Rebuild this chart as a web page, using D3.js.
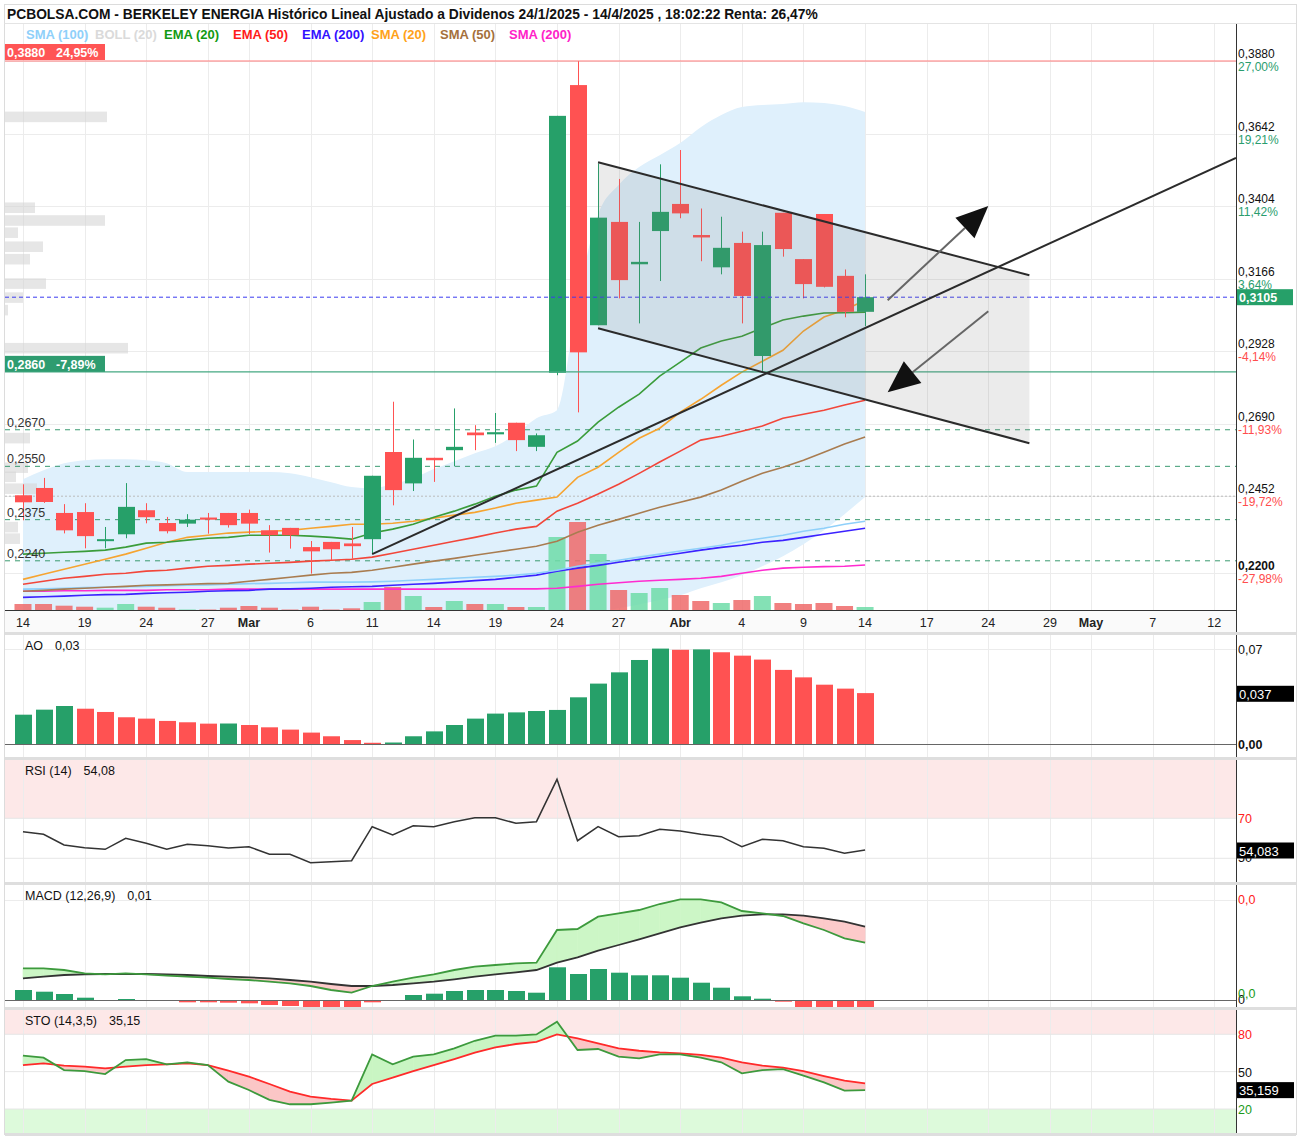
<!DOCTYPE html>
<html>
<head>
<meta charset="utf-8">
<script src="https://cdn.jsdelivr.net/npm/d3@7"></script>
<style>
body { margin: 0; background: #fff; }
text { font-family: "Liberation Sans", Arial, sans-serif; }
</style>
</head>
<body>
<div id="grafico"></div>
<script>
// ---- datos ----
const sesiones = ["14/2","17/2","18/2","19/2","20/2","21/2","24/2","25/2","26/2","27/2","28/2",
  "3/3","4/3","5/3","6/3","7/3","10/3","11/3","12/3","13/3","14/3","17/3","18/3","19/3","20/3","21/3",
  "24/3","25/3","26/3","27/3","28/3","31/3","1/4","2/4","3/4","4/4","7/4","8/4","9/4","10/4","11/4","14/4"];

const apertura = [0.2455,0.2479,0.2397,0.2400,0.2307,0.2327,0.2406,0.2364,0.2362,0.2382,0.2397,0.2397,0.2340,0.2348,0.2285,0.2302,0.2297,0.2311,0.2597,0.2494,0.2578,0.2603,0.2661,0.2655,0.2693,0.2614,0.2857,0.3801,0.3013,0.3352,0.3213,0.3322,0.3411,0.3309,0.3203,0.3283,0.2912,0.3382,0.3230,0.3378,0.3175,0.3057];
const maximo = [0.2491,0.2512,0.2426,0.2429,0.2351,0.2495,0.2429,0.2384,0.2393,0.2397,0.2397,0.2408,0.2357,0.2348,0.2305,0.2302,0.2351,0.2519,0.2762,0.2638,0.2578,0.2740,0.2685,0.2725,0.2693,0.2658,0.3700,0.3880,0.3544,0.3493,0.3352,0.3541,0.3588,0.3396,0.3369,0.3320,0.3320,0.3382,0.3230,0.3378,0.3196,0.3180];
const minimo = [0.2373,0.2430,0.2330,0.2281,0.2281,0.2314,0.2363,0.2330,0.2351,0.2329,0.2349,0.2327,0.2267,0.2280,0.2198,0.2242,0.2247,0.2262,0.2422,0.2469,0.2499,0.2550,0.2603,0.2627,0.2600,0.2600,0.2849,0.2727,0.3013,0.3101,0.3019,0.3158,0.3364,0.3223,0.3180,0.3019,0.2857,0.3238,0.3101,0.3137,0.3039,0.3010];
const cierre = [0.2432,0.2433,0.2340,0.2321,0.2311,0.2417,0.2383,0.2337,0.2375,0.2375,0.2357,0.2362,0.2324,0.2324,0.2271,0.2278,0.2288,0.2519,0.2472,0.2578,0.2570,0.2614,0.2652,0.2662,0.2636,0.2652,0.3700,0.2924,0.3366,0.3161,0.3221,0.3385,0.3380,0.3301,0.3267,0.3109,0.3276,0.3263,0.3148,0.3139,0.3057,0.3105];
const volumen = [60,60,43,33,23,60,33,23,5,5,23,40,23,5,33,5,17,80,230,140,30,90,60,60,30,30,730,880,560,200,170,220,150,90,70,100,140,70,60,70,40,30];

const ema20 = [0.2262,0.2265,0.2268,0.2271,0.2275,0.2285,0.2298,0.2301,0.2308,0.2314,0.2317,0.2324,0.2324,0.2324,0.2321,0.2317,0.2311,0.2331,0.2344,0.2360,0.2383,0.2403,0.2426,0.2452,0.2472,0.2485,0.2596,0.2633,0.2695,0.2744,0.2787,0.2846,0.2892,0.2938,0.2961,0.2977,0.3004,0.3030,0.3043,0.3053,0.3054,0.3056];
const sma20 = [0.2179,0.2196,0.2212,0.2229,0.2245,0.2262,0.2281,0.2301,0.2317,0.2324,0.2331,0.2334,0.2337,0.2340,0.2347,0.2353,0.2360,0.2360,0.2363,0.2370,0.2380,0.2390,0.2399,0.2413,0.2429,0.2439,0.2449,0.2514,0.2547,0.2596,0.2642,0.2675,0.2728,0.2770,0.2816,0.2859,0.2895,0.2931,0.2994,0.3040,0.3063,0.3095];
const ema50 = [0.2163,0.2173,0.2183,0.2189,0.2196,0.2199,0.2206,0.2209,0.2216,0.2222,0.2225,0.2229,0.2232,0.2235,0.2239,0.2242,0.2245,0.2252,0.2265,0.2278,0.2291,0.2304,0.2317,0.2331,0.2344,0.2353,0.2403,0.2429,0.2459,0.2491,0.2527,0.2564,0.2600,0.2636,0.2649,0.2665,0.2682,0.2708,0.2721,0.2734,0.2751,0.2767];
const sma50 = [0.2140,0.2143,0.2147,0.2150,0.2153,0.2156,0.2160,0.2161,0.2163,0.2165,0.2166,0.2173,0.2179,0.2186,0.2193,0.2199,0.2202,0.2209,0.2219,0.2229,0.2239,0.2248,0.2258,0.2268,0.2278,0.2288,0.2304,0.2334,0.2357,0.2376,0.2396,0.2416,0.2432,0.2449,0.2472,0.2501,0.2527,0.2547,0.2570,0.2596,0.2623,0.2646];
const ema200 = [0.2120,0.2122,0.2124,0.2127,0.2129,0.2130,0.2133,0.2135,0.2137,0.2140,0.2142,0.2143,0.2147,0.2148,0.2150,0.2153,0.2155,0.2156,0.2160,0.2163,0.2166,0.2170,0.2175,0.2179,0.2186,0.2193,0.2206,0.2216,0.2225,0.2235,0.2245,0.2255,0.2265,0.2275,0.2284,0.2291,0.2301,0.2307,0.2317,0.2327,0.2337,0.2347];
const sma100 = [0.2147,0.2148,0.2150,0.2152,0.2153,0.2155,0.2156,0.2158,0.2160,0.2161,0.2163,0.2165,0.2166,0.2168,0.2170,0.2170,0.2170,0.2171,0.2173,0.2176,0.2179,0.2183,0.2186,0.2189,0.2193,0.2199,0.2209,0.2222,0.2232,0.2242,0.2252,0.2262,0.2272,0.2281,0.2291,0.2304,0.2314,0.2324,0.2337,0.2347,0.2360,0.2370];
const sma200 = [0.2140,0.2140,0.2142,0.2142,0.2143,0.2143,0.2143,0.2145,0.2145,0.2145,0.2147,0.2147,0.2147,0.2147,0.2147,0.2147,0.2147,0.2147,0.2147,0.2147,0.2147,0.2148,0.2148,0.2148,0.2148,0.2148,0.2150,0.2156,0.2163,0.2168,0.2173,0.2176,0.2179,0.2183,0.2189,0.2199,0.2209,0.2216,0.2219,0.2221,0.2222,0.2226];
const bollSup = [0.2508,0.2537,0.2560,0.2570,0.2573,0.2573,0.2570,0.2560,0.2531,0.2531,0.2531,0.2531,0.2531,0.2527,0.2514,0.2498,0.2482,0.2478,0.2491,0.2511,0.2541,0.2567,0.2593,0.2616,0.2656,0.2708,0.2734,0.3095,0.3375,0.3473,0.3532,0.3571,0.3611,0.3663,0.3703,0.3729,0.3736,0.3739,0.3745,0.3742,0.3732,0.3713];
const bollInf = [0.2045,0.2043,0.2040,0.2040,0.2041,0.2042,0.2043,0.2044,0.2045,0.2046,0.2047,0.2048,0.2049,0.2050,0.2050,0.2051,0.2052,0.2053,0.2054,0.2055,0.2056,0.2058,0.2060,0.2062,0.2064,0.2066,0.2071,0.2062,0.2071,0.2084,0.2097,0.2111,0.2127,0.2150,0.2170,0.2193,0.2222,0.2255,0.2294,0.2340,0.2393,0.2449];

// volumen por precio (perfil izquierdo)
const perfilPrecio = [0.3695,0.3397,0.3355,0.3315,0.3269,0.3228,0.3148,0.3102,0.3061,0.2936,0.2641,0.2544,0.2514,0.2475,0.2349,0.2311];
const perfilVol = [102,30,100,13,38,25,41,18,3,123,25,23,11,32,13,15];

// indicadores
const ao = [0.0216,0.0253,0.0280,0.0260,0.0236,0.0197,0.0187,0.0170,0.0160,0.0150,0.0151,0.0140,0.0123,0.0106,0.0084,0.0057,0.0029,0.0009,0.0011,0.0057,0.0093,0.0140,0.0187,0.0224,0.0233,0.0243,0.0251,0.0344,0.0445,0.0528,0.0619,0.0703,0.0694,0.0697,0.0676,0.0651,0.0622,0.0546,0.0491,0.0437,0.0408,0.0375];
const rsi = [63.3,62.0,56.7,55.3,54.5,60.0,57.5,54.5,57.0,56.3,55.2,55.8,52.0,52.0,47.8,48.3,48.8,65.8,61.7,66.3,65.8,68.3,70.3,70.3,67.5,68.3,89.5,58.8,65.8,60.8,61.3,64.5,63.7,62.0,60.8,55.8,59.5,58.8,55.8,55.0,52.5,54.1];
const macd = [0.00633,0.00633,0.0060,0.00533,0.00513,0.00533,0.00513,0.00487,0.00467,0.00447,0.0042,0.0040,0.00367,0.00333,0.0028,0.0020,0.00147,0.0028,0.00367,0.00447,0.00513,0.0060,0.00667,0.0070,0.00733,0.00747,0.0140,0.0142,0.01667,0.01733,0.0180,0.0192,0.02013,0.02013,0.01953,0.0178,0.01733,0.0168,0.01533,0.0140,0.01233,0.01147];
const senal = [0.00433,0.00467,0.0050,0.00513,0.0052,0.0052,0.0052,0.00513,0.0050,0.0048,0.00467,0.00453,0.00433,0.0040,0.00367,0.0032,0.0028,0.0028,0.0030,0.00333,0.00367,0.00413,0.00467,0.00513,0.00553,0.0060,0.00747,0.00853,0.00987,0.0110,0.01213,0.01333,0.01453,0.01547,0.01633,0.01687,0.01713,0.01713,0.01687,0.01633,0.01567,0.01467];
const histograma = [0.00100,0.00083,0.00060,0.00023,0,0.00010,0,-0.00007,-0.00023,-0.00023,-0.00027,-0.00033,-0.00050,-0.00060,-0.00080,-0.00080,-0.00080,-0.00023,-0.00005,0.00050,0.00063,0.00090,0.00100,0.00100,0.00090,0.00073,0.00327,0.00260,0.00310,0.00273,0.00247,0.00247,0.00223,0.00173,0.00123,0.00037,0.00013,-0.00017,-0.00080,-0.00080,-0.00080,-0.00080];
const stoK = [62.8,61.2,51.3,50.5,48.1,59.3,60.1,55.9,57.5,55.3,42.0,35.3,27.3,23.8,23.8,25.1,26.7,63.9,55.9,62.0,63.9,68.7,74.8,78.9,78.9,79.9,90.1,67.4,68.2,62.0,60.7,63.9,63.9,61.2,57.5,48.7,51.3,52.1,46.8,41.4,34.7,35.2];
const stoD = [55.3,56.7,54.8,54.0,52.7,54.0,55.3,55.9,56.7,55.3,50.8,46.0,40.1,33.9,29.9,28.1,26.7,40.1,45.2,50.5,55.3,60.1,65.2,69.5,72.2,74.0,79.9,76.7,72.7,68.7,66.8,65.5,64.7,63.4,61.2,57.5,54.8,53.2,50.5,46.5,42.8,40.6];

// eje de fechas (indice de sesion, incluidas futuras)
const ticksPos = [0,3,6,9,11,14,17,20,23,26,29,32,35,38,41,44,47,50,52,55,58];
const ticksTxt = ["14","19","24","27","Mar","6","11","14","19","24","27","Abr","4","9","14","17","24","29","May","7","12"];
const ticksPrecio = [0.3880,0.3642,0.3404,0.3166,0.2928,0.2690,0.2452,0.2200];
const ticksPct = ["27,00%","19,21%","11,42%","3,64%","-4,14%","-11,93%","-19,72%","-27,98%"];

// niveles horizontales
const soportes = [0.2670,0.2550,0.2375,0.2240];
const maxPeriodo = 0.3880, minRef = 0.2860, ultimo = 0.3105;

// lineas dibujadas a mano: [sesion, precio]
const canalSup = [[28,0.3548],[49,0.3177]];
const canalInf = [[28,0.3003],[49,0.2626]];
const tendAlcista = [[17,0.2262],[59.06,0.3562]];
const flechaSube = [[42.1,0.3095],[47,0.3404]];
const flechaBaja = [[47,0.3059],[42.1,0.2793]];

// ---- dibujo ----
var width = 1301, height = 1138;
var svg = d3.select("#grafico").append("svg")
  .attr("width", width).attr("height", height).style("display", "block");

const L = 5, R = 1236;
const verde = "#26a069", rojo = "#ff5252";
const x = d3.scaleLinear().domain([-0.876, 59.06]).range([L, R]);
const y = d3.scaleLinear().domain([0.2200, 0.3880]).range([573, 61]);
const yVol = d3.scaleLinear().domain([0, 1000]).range([610, 510]);
const idx = d3.range(cierre.length);

const defs = svg.append("defs");
function clip(id, top, bottom) {
  defs.append("clipPath").attr("id", id).append("rect")
    .attr("x", L).attr("y", top).attr("width", R - L).attr("height", bottom - top);
}
clip("cMain", 24, 610);
clip("cAO", 635, 757);
clip("cRSI", 760, 882);
clip("cMACD", 885, 1007);
clip("cSTO", 1010, 1133);

// marco
svg.append("rect").attr("x", 4.5).attr("y", 4.5).attr("width", 1292).attr("height", 1130)
  .attr("fill", "none").attr("stroke", "#dcdcdc");
svg.append("line").attr("x1", 4.5).attr("x2", 1296).attr("y1", 23.5).attr("y2", 23.5).attr("stroke", "#e4e4e4");

svg.append("text").attr("x", 7).attr("y", 19).attr("font-size", 13.8).attr("font-weight", "bold")
  .attr("fill", "#111")
  .text("PCBOLSA.COM - BERKELEY ENERGIA Histórico Lineal Ajustado a Dividenos 24/1/2025 - 14/4/2025 , 18:02:22 Renta: 26,47%");

function vgrid(g, top, bottom) {
  g.selectAll(".vg").data(ticksPos).enter().append("line")
    .attr("x1", d => Math.round(x(d)) + 0.5).attr("x2", d => Math.round(x(d)) + 0.5)
    .attr("y1", top).attr("y2", bottom).attr("stroke", "#ececec");
}

// ===== panel principal =====
const gm = svg.append("g").attr("clip-path", "url(#cMain)");
vgrid(gm, 24, 610);
gm.selectAll(".hg").data(ticksPrecio).enter().append("line")
  .attr("x1", L).attr("x2", R).attr("y1", d => Math.round(y(d)) + 0.5).attr("y2", d => Math.round(y(d)) + 0.5)
  .attr("stroke", "#ececec");

// bandas de bollinger
gm.append("path").datum(idx)
  .attr("d", d3.area().x(i => x(i)).y0(i => y(bollInf[i])).y1(i => y(bollSup[i])).curve(d3.curveMonotoneX))
  .attr("fill", "#dff0fc");

// perfil de volumen
const xPerfil = d3.scaleLinear().domain([0, 130]).range([0, 130]);
gm.selectAll(".perf").data(perfilPrecio).enter().append("rect")
  .attr("x", L).attr("y", d => y(d + 0.0019)).attr("width", (d, i) => xPerfil(perfilVol[i]))
  .attr("height", y(0) - y(0.0038) - 1).attr("fill", "#d6d6d6").attr("opacity", 0.6);

// niveles
gm.selectAll(".sop").data(soportes).enter().append("line")
  .attr("x1", L).attr("x2", R).attr("y1", d => y(d)).attr("y2", d => y(d))
  .attr("stroke", "#3a9a70").attr("stroke-width", 1).attr("stroke-dasharray", "5,5");
gm.append("line").attr("x1", L).attr("x2", R).attr("y1", y(0.2452)).attr("y2", y(0.2452))
  .attr("stroke", "#bbb").attr("stroke-dasharray", "2,2");

// volumen
gm.selectAll(".vol").data(idx).enter().append("rect")
  .attr("x", i => x(i) - 8.5).attr("width", 17)
  .attr("y", i => yVol(volumen[i])).attr("height", i => yVol(0) - yVol(volumen[i]))
  .attr("fill", i => cierre[i] >= apertura[i] ? "#6fdca8" : "#ee6a6a").attr("opacity", 0.85);

// medias
const medias = [
  [sma200, "#ff2bd0"], [ema200, "#3b22ff"], [sma100, "#8fd0fa"], [sma50, "#a97c50"],
  [ema50, "#f2463a"], [sma20, "#f6a431"], [ema20, "#3a9c3a"]
];
medias.forEach(m => {
  gm.append("path").datum(m[0])
    .attr("d", d3.line().x((d, i) => x(i)).y(d => y(d)))
    .attr("fill", "none").attr("stroke", m[1]).attr("stroke-width", 1.6);
});

// velas
const velas = gm.selectAll(".vela").data(idx).enter().append("g");
velas.append("line")
  .attr("x1", i => Math.round(x(i)) + 0.5).attr("x2", i => Math.round(x(i)) + 0.5)
  .attr("y1", i => y(maximo[i])).attr("y2", i => y(minimo[i]))
  .attr("stroke", i => cierre[i] >= apertura[i] ? verde : rojo);
velas.append("rect")
  .attr("x", i => Math.round(x(i)) - 8).attr("width", 17)
  .attr("y", i => y(Math.max(apertura[i], cierre[i])))
  .attr("height", i => Math.max(2, Math.abs(y(apertura[i]) - y(cierre[i]))))
  .attr("fill", i => cierre[i] >= apertura[i] ? verde : rojo);

// lineas horizontales
gm.append("line").attr("x1", L).attr("x2", R).attr("y1", y(maxPeriodo)).attr("y2", y(maxPeriodo))
  .attr("stroke", "#ff7b7b").attr("stroke-width", 1.2);
gm.append("line").attr("x1", L).attr("x2", R).attr("y1", y(minRef)).attr("y2", y(minRef))
  .attr("stroke", "#44a882").attr("stroke-width", 1.2);
gm.append("line").attr("x1", L).attr("x2", R).attr("y1", y(ultimo)).attr("y2", y(ultimo))
  .attr("stroke", "#3a3af0").attr("stroke-dasharray", "4,3");

// canal (triangulo)
const pt = d => [x(d[0]), y(d[1])];
gm.append("path")
  .attr("d", d3.line()([pt(canalSup[0]), pt(canalSup[1]), pt(canalInf[1]), pt(canalInf[0])]) + "Z")
  .attr("fill", "rgba(120,120,120,0.15)");
[canalSup, canalInf, tendAlcista].forEach(t => {
  gm.append("line").attr("x1", pt(t[0])[0]).attr("y1", pt(t[0])[1]).attr("x2", pt(t[1])[0]).attr("y2", pt(t[1])[1])
    .attr("stroke", "#2b2b2b").attr("stroke-width", 2);
});
[flechaSube, flechaBaja].forEach(f => {
  const a = pt(f[0]), b = pt(f[1]);
  const len = Math.hypot(b[0] - a[0], b[1] - a[1]);
  const ux = (b[0] - a[0]) / len, uy = (b[1] - a[1]) / len;
  const bx = b[0] - 32 * ux, by = b[1] - 32 * uy;
  gm.append("line").attr("x1", a[0]).attr("y1", a[1]).attr("x2", bx).attr("y2", by)
    .attr("stroke", "#666").attr("stroke-width", 2);
  gm.append("path").attr("d", d3.line()([b, [bx - 14 * uy, by + 14 * ux], [bx + 14 * uy, by - 14 * ux]]) + "Z")
    .attr("fill", "#111");
});

// leyenda (ranuras de ancho fijo)
const leyenda = ["SMA (100)", "BOLL (20)", "EMA (20)", "EMA (50)", "EMA (200)", "SMA (20)", "SMA (50)", "SMA (200)"];
const leyendaCol = ["#8fd0fa", "#dadada", "#139a13", "#ff1a1a", "#3311ff", "#ffa21a", "#a5703c", "#ff22c8"];
leyenda.forEach((t, i) => {
  svg.append("text").attr("x", 26 + i * 69).attr("y", 39).attr("font-size", 13).attr("font-weight", "bold")
    .attr("fill", leyendaCol[i]).text(t);
});

// etiquetas de niveles (izquierda)
function caja(xx, yy, w, h, fill, t1, t2) {
  svg.append("rect").attr("x", xx).attr("y", yy).attr("width", w).attr("height", h).attr("fill", fill);
  svg.append("text").attr("x", xx + 2).attr("y", yy + h - 3).attr("font-size", 12.5).attr("font-weight", "bold")
    .attr("fill", "#fff").text(t1);
  if (t2) svg.append("text").attr("x", xx + 51).attr("y", yy + h - 3).attr("font-size", 12.5).attr("font-weight", "bold")
    .attr("fill", "#fff").text(t2);
}
caja(5, y(maxPeriodo) - 17, 100, 16, "#ff5555", "0,3880", "24,95%");
caja(5, y(minRef) - 16, 100, 16, "#2e9c70", "0,2860", "-7,89%");
soportes.forEach(p => {
  svg.append("text").attr("x", 7).attr("y", y(p) - 3).attr("font-size", 12.5).attr("fill", "#333")
    .text(d3.format(".4f")(p).replace(".", ","));
});

// eje derecho del precio
svg.append("line").attr("x1", R + 0.5).attr("x2", R + 0.5).attr("y1", 24).attr("y2", 632).attr("stroke", "#333");
ticksPrecio.forEach((p, i) => {
  svg.append("text").attr("x", 1238).attr("y", y(p) - 3).attr("font-size", 12).attr("fill", "#111")
    .attr("font-weight", i === ticksPrecio.length - 1 ? "bold" : "normal")
    .text(d3.format(".4f")(p).replace(".", ","));
  svg.append("text").attr("x", 1238).attr("y", y(p) + 10).attr("font-size", 12)
    .attr("fill", ticksPct[i][0] === "-" ? "#ff4d4d" : "#2a9d6e").text(ticksPct[i]);
});
svg.append("rect").attr("x", 1237).attr("y", y(ultimo) - 8).attr("width", 56).attr("height", 16).attr("fill", verde);
svg.append("text").attr("x", 1239).attr("y", y(ultimo) + 5).attr("font-size", 12.5).attr("font-weight", "bold")
  .attr("fill", "#fff").text("0,3105");

// eje de fechas
svg.append("rect").attr("x", L).attr("y", 611).attr("width", R - L).attr("height", 21).attr("fill", "#fafafa");
svg.append("line").attr("x1", L).attr("x2", R).attr("y1", 610.5).attr("y2", 610.5).attr("stroke", "#333");
ticksPos.forEach((p, i) => {
  const bold = isNaN(+ticksTxt[i]);
  svg.append("text").attr("x", x(p)).attr("y", 627).attr("text-anchor", "middle").attr("font-size", 12.5)
    .attr("font-weight", bold ? "bold" : "normal").attr("fill", "#222").text(ticksTxt[i]);
});

// separadores
[632, 757, 882, 1007, 1133].forEach(s => {
  svg.append("rect").attr("x", L).attr("y", s).attr("width", 1291).attr("height", 3).attr("fill", "#dedede");
});

function ejePanel(top, bottom) {
  svg.append("line").attr("x1", R + 0.5).attr("x2", R + 0.5).attr("y1", top).attr("y2", bottom).attr("stroke", "#333");
}
function etiqueta(t1, t2, yy) {
  const a = svg.append("text").attr("x", 25).attr("y", yy).attr("font-size", 12.5).attr("fill", "#111").text(t1);
  svg.append("text").attr("x", 25 + a.node().getComputedTextLength() + 12).attr("y", yy)
    .attr("font-size", 12.5).attr("fill", "#111").text(t2);
}
function txtDer(t, yy, col, bold) {
  svg.append("text").attr("x", 1238).attr("y", yy).attr("font-size", 12.5).attr("fill", col)
    .attr("font-weight", bold ? "bold" : "normal").text(t);
}
function cajaNegra(t, yy) {
  svg.append("rect").attr("x", 1237).attr("y", yy - 8).attr("width", 57).attr("height", 16).attr("fill", "#000");
  svg.append("text").attr("x", 1239).attr("y", yy + 5).attr("font-size", 13).attr("fill", "#fff").text(t);
}

function relleno(g, a, b, yS, colUp, colDn) {
  for (let i = 0; i < a.length - 1; i++) {
    const d0 = a[i] - b[i], d1 = a[i + 1] - b[i + 1];
    const polys = [];
    if (d0 * d1 < 0) {
      const t = d0 / (d0 - d1);
      const xi = i + t, vi = a[i] + t * (a[i + 1] - a[i]);
      polys.push([d0 > 0, [[i, a[i]], [xi, vi], [i, b[i]]]]);
      polys.push([d1 > 0, [[xi, vi], [i + 1, a[i + 1]], [i + 1, b[i + 1]]]]);
    } else {
      polys.push([d0 + d1 >= 0, [[i, a[i]], [i + 1, a[i + 1]], [i + 1, b[i + 1]], [i, b[i]]]]);
    }
    polys.forEach(p => {
      const c = p[0] ? colUp : colDn;
      g.append("path").attr("d", d3.line()(p[1].map(q => [x(q[0]), yS(q[1])])) + "Z")
        .attr("fill", c).attr("stroke", c).attr("stroke-width", 0.6);
    });
  }
}

// ===== AO =====
const yAO = d3.scaleLinear().domain([0, 0.07]).range([744, 649]);
const gAO = svg.append("g").attr("clip-path", "url(#cAO)");
vgrid(gAO, 635, 757);
gAO.append("line").attr("x1", L).attr("x2", R).attr("y1", 649.5).attr("y2", 649.5).attr("stroke", "#ececec");
gAO.selectAll(".ao").data(idx).enter().append("rect")
  .attr("x", i => Math.round(x(i)) - 8).attr("width", 17)
  .attr("y", i => yAO(ao[i])).attr("height", i => yAO(0) - yAO(ao[i]))
  .attr("fill", i => (i === 0 || ao[i] >= ao[i - 1]) ? verde : rojo);
gAO.append("line").attr("x1", L).attr("x2", R).attr("y1", 744.5).attr("y2", 744.5).attr("stroke", "#666");
ejePanel(635, 757);
etiqueta("AO", "0,03", 650);
txtDer("0,07", 654, "#111");
txtDer("0,00", 749, "#111", true);
cajaNegra("0,037", yAO(0.037));

// ===== RSI =====
const yRSI = d3.scaleLinear().domain([50, 70]).range([858.3, 818.3]);
const gR = svg.append("g").attr("clip-path", "url(#cRSI)");
gR.append("rect").attr("x", L).attr("y", 760).attr("width", R - L).attr("height", yRSI(70) - 760).attr("fill", "#fde8e8");
vgrid(gR, 760, 882);
[70, 50].forEach(v => gR.append("line").attr("x1", L).attr("x2", R).attr("y1", yRSI(v)).attr("y2", yRSI(v)).attr("stroke", "#e6e6e6"));
gR.append("path").datum(rsi).attr("d", d3.line().x((d, i) => x(i)).y(d => yRSI(d)))
  .attr("fill", "none").attr("stroke", "#333").attr("stroke-width", 1.5);
ejePanel(760, 882);
etiqueta("RSI (14)", "54,08", 775);
txtDer("70", 823, "#ff2020");
txtDer("50", 862, "#111");
cajaNegra("54,083", yRSI(53.9));

// ===== MACD =====
const yM = d3.scaleLinear().domain([0, 0.02]).range([1000, 900]);
const yH = d3.scaleLinear().domain([0, 0.001]).range([1000, 990]);
const gM = svg.append("g").attr("clip-path", "url(#cMACD)");
vgrid(gM, 885, 1007);
gM.append("line").attr("x1", L).attr("x2", R).attr("y1", 900.5).attr("y2", 900.5).attr("stroke", "#ececec");
relleno(gM, macd, senal, yM, "#ccf6c6", "#fccaca");
gM.selectAll(".h").data(idx).enter().append("rect")
  .attr("x", i => Math.round(x(i)) - 8).attr("width", 17)
  .attr("y", i => histograma[i] >= 0 ? yH(histograma[i]) : yH(0))
  .attr("height", i => Math.abs(yH(histograma[i]) - yH(0)))
  .attr("fill", i => histograma[i] >= 0 ? verde : rojo);
gM.append("line").attr("x1", L).attr("x2", R).attr("y1", 1000.5).attr("y2", 1000.5).attr("stroke", "#666");
gM.append("path").datum(senal).attr("d", d3.line().x((d, i) => x(i)).y(d => yM(d)))
  .attr("fill", "none").attr("stroke", "#333").attr("stroke-width", 1.8);
gM.append("path").datum(macd).attr("d", d3.line().x((d, i) => x(i)).y(d => yM(d)))
  .attr("fill", "none").attr("stroke", "#3d9a3d").attr("stroke-width", 1.8);
ejePanel(885, 1007);
etiqueta("MACD (12,26,9)", "0,01", 900);
txtDer("0,0", 904, "#ff2020");
txtDer("0", 1004, "#111");
txtDer("0,0", 998, "#1a9a1a");

// ===== STO =====
const yS = d3.scaleLinear().domain([20, 80]).range([1109, 1034.3]);
const gS = svg.append("g").attr("clip-path", "url(#cSTO)");
gS.append("rect").attr("x", L).attr("y", 1010).attr("width", R - L).attr("height", yS(80) - 1010).attr("fill", "#fde8e8");
gS.append("rect").attr("x", L).attr("y", yS(20)).attr("width", R - L).attr("height", 1133 - yS(20)).attr("fill", "#ddfadb");
vgrid(gS, 1010, 1133);
[80, 50, 20].forEach(v => gS.append("line").attr("x1", L).attr("x2", R).attr("y1", yS(v)).attr("y2", yS(v)).attr("stroke", "#e6e6e6"));
relleno(gS, stoK, stoD, yS, "#c9f5c3", "#fbc6c6");
gS.append("path").datum(stoD).attr("d", d3.line().x((d, i) => x(i)).y(d => yS(d)))
  .attr("fill", "none").attr("stroke", "#ff2a2a").attr("stroke-width", 1.8);
gS.append("path").datum(stoK).attr("d", d3.line().x((d, i) => x(i)).y(d => yS(d)))
  .attr("fill", "none").attr("stroke", "#3d9a3d").attr("stroke-width", 1.8);
ejePanel(1010, 1133);
etiqueta("STO (14,3,5)", "35,15", 1025);
txtDer("80", 1039, "#ff2020");
txtDer("50", 1077, "#111");
txtDer("20", 1114, "#1a9a1a");
cajaNegra("35,159", yS(35.159));
</script>
</body>
</html>
